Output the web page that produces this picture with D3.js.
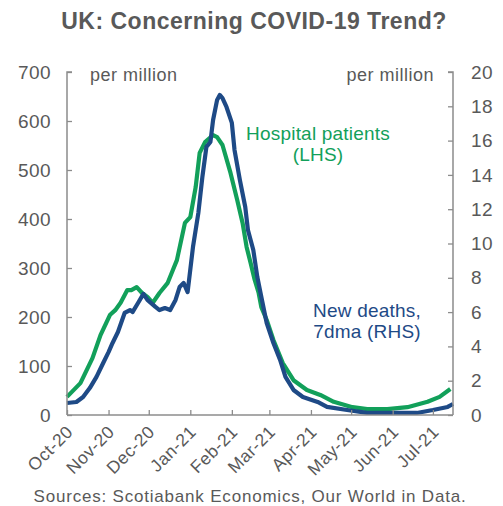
<!DOCTYPE html>
<html><head><meta charset="utf-8">
<script src="https://cdn.jsdelivr.net/npm/d3@7"></script>
<style>
body{margin:0;background:#fff;}
svg text{font-family:"Liberation Sans",Arial,sans-serif;fill:#595959;}
</style></head>
<body><svg id="c" width="503" height="506"></svg>
<script>
const titleText = "UK: Concerning COVID-19 Trend?";
const sourceText = "Sources: Scotiabank Economics, Our World in Data.";
const leftTicks = [0,100,200,300,400,500,600,700];
const rightTicks = [0,2,4,6,8,10,12,14,16,18,20];
const monthTicks = ["2020-10-01","2020-11-01","2020-12-01","2021-01-01","2021-02-01","2021-03-01","2021-04-01","2021-05-01","2021-06-01","2021-07-01"];
const hospDates = ["2020-10-01","2020-10-11","2020-10-20","2020-10-26","2020-11-02","2020-11-06","2020-11-10","2020-11-15","2020-11-18","2020-11-22","2020-11-26","2020-11-30","2020-12-04","2020-12-09","2020-12-15","2020-12-19","2020-12-22","2020-12-28","2021-01-01","2021-01-05","2021-01-08","2021-01-12","2021-01-18","2021-01-21","2021-01-25","2021-01-31","2021-02-05","2021-02-09","2021-02-12","2021-02-15","2021-02-18","2021-02-21","2021-02-23","2021-02-27","2021-03-04","2021-03-11","2021-03-19","2021-03-29","2021-04-08","2021-04-18","2021-05-02","2021-05-13","2021-05-28","2021-06-12","2021-06-27","2021-07-06","2021-07-14"];
const hospValues = [37,65,116,163,204,214,229,255,255,261,249,241,229,249,269,296,316,392,404,465,535,557,571,567,551,494,439,392,343,310,276,249,220,194,153,106,71,51,41,27,16,12,12,16,27,37,53];
const deathDates = ["2020-10-01","2020-10-08","2020-10-13","2020-10-18","2020-10-23","2020-10-28","2020-11-01","2020-11-04","2020-11-08","2020-11-13","2020-11-17","2020-11-19","2020-11-23","2020-11-27","2020-11-30","2020-12-06","2020-12-09","2020-12-13","2020-12-17","2020-12-21","2020-12-24","2020-12-27","2020-12-30","2021-01-03","2021-01-07","2021-01-10","2021-01-13","2021-01-16","2021-01-18","2021-01-21","2021-01-23","2021-01-25","2021-01-28","2021-02-01","2021-02-03","2021-02-07","2021-02-11","2021-02-13","2021-02-17","2021-02-20","2021-02-23","2021-02-27","2021-03-04","2021-03-09","2021-03-13","2021-03-19","2021-03-26","2021-04-06","2021-04-13","2021-04-28","2021-05-13","2021-06-01","2021-06-19","2021-07-01","2021-07-12","2021-07-16"];
const deathValues = [0.70,0.76,1.05,1.57,2.22,3.03,3.67,4.20,4.84,5.95,6.12,6.01,6.53,7.06,6.71,6.30,6.12,6.24,6.12,6.71,7.46,7.70,7.17,9.80,11.78,13.88,15.63,15.92,17.20,18.37,18.66,18.48,17.96,17.03,15.45,13.70,12.13,10.79,9.62,8.05,6.88,5.36,4.20,3.21,2.22,1.46,1.05,0.76,0.47,0.29,0.12,0.12,0.12,0.29,0.47,0.64];

const parse = d3.timeParse("%Y-%m-%d");
const fmt = d3.timeFormat("%b-%y");
const svg = d3.select("#c");
const L = 67, R = 453, T = 72, B = 415;
const axisColor = "#8c8c8c";
const green = "#12a05a", blue = "#1e4a86";

const x = d3.scaleTime().domain([parse("2020-10-01"), parse("2021-07-16")]).range([L, R]);
const yL = d3.scaleLinear().domain([0,700]).range([B, T]);
const yR = d3.scaleLinear().domain([0,20]).range([B, T]);

svg.append("text").attr("x", 254).attr("y", 29).attr("text-anchor","middle")
  .style("font-size","23px").style("font-weight","bold").style("letter-spacing","0.5px").text(titleText);

// Lines
const hosp = hospDates.map((d,i)=>({d:parse(d), v:hospValues[i]}));
const death = deathDates.map((d,i)=>({d:parse(d), v:deathValues[i]}));
svg.append("path").datum(hosp).attr("fill","none").attr("stroke",green).attr("stroke-width",4.2)
  .attr("stroke-linejoin","round").attr("d", d3.line().x(p=>x(p.d)).y(p=>yL(p.v)));
svg.append("path").datum(death).attr("fill","none").attr("stroke",blue).attr("stroke-width",4.2)
  .attr("stroke-linejoin","round").attr("d", d3.line().x(p=>x(p.d)).y(p=>yR(p.v)));

// Axes
const gL = svg.append("g").attr("transform",`translate(${L},0)`)
  .call(d3.axisRight(yL).tickValues(leftTicks).tickSize(5).tickFormat(""));
const gR = svg.append("g").attr("transform",`translate(${R},0)`)
  .call(d3.axisLeft(yR).tickValues(rightTicks).tickSize(5).tickFormat(""));
const gX = svg.append("g").attr("transform",`translate(0,${B})`)
  .call(d3.axisTop(x).tickValues(monthTicks.map(parse)).tickSize(5).tickFormat(""));
[gL,gR,gX].forEach(g=>{
  g.select(".domain").attr("stroke",axisColor).attr("stroke-width",1.5);
  g.selectAll(".tick line").attr("stroke",axisColor).attr("stroke-width",1.3);
});
gX.select(".domain").attr("d",`M${L},0H${R}`);
gL.select(".domain").attr("d",`M5,${T}H0V${B}`);
gR.select(".domain").attr("d",`M-5,${T}H0V${B}`);

// Tick labels
svg.append("g").selectAll("text").data(leftTicks).join("text")
  .attr("x", 51).attr("y", d=>yL(d)).attr("dy","0.35em").attr("text-anchor","end")
  .style("font-size","19px").style("letter-spacing","0.4px").text(d=>d);
svg.append("g").selectAll("text").data(rightTicks).join("text")
  .attr("x", 471).attr("y", d=>yR(d)).attr("dy","0.35em").attr("text-anchor","start")
  .style("font-size","19px").style("letter-spacing","0.4px").text(d=>d);
svg.append("g").selectAll("text").data(monthTicks).join("text")
  .attr("transform", d=>`translate(${x(parse(d))+7},${B+18}) rotate(-45)`)
  .attr("text-anchor","end").style("font-size","17.5px").style("letter-spacing","0.5px").text(d=>fmt(parse(d)));

// Unit labels
svg.append("text").attr("x", 90).attr("y", 81).style("font-size","18px").style("letter-spacing","0.5px").text("per million");
svg.append("text").attr("x", 434).attr("y", 81).attr("text-anchor","end").style("font-size","18px").style("letter-spacing","0.5px").text("per million");

// Series labels
const lg = svg.append("text").attr("text-anchor","middle").style("font-size","19px").style("letter-spacing","0.2px");
lg.append("tspan").attr("x",318).attr("y",140).text("Hospital patients").style("fill",green);
lg.append("tspan").attr("x",318).attr("y",161).text("(LHS)").style("fill",green);
const lb = svg.append("text").attr("text-anchor","middle").style("font-size","19px").style("letter-spacing","0.2px");
lb.append("tspan").attr("x",367).attr("y",317).text("New deaths,").style("fill",blue);
lb.append("tspan").attr("x",367).attr("y",338).text("7dma (RHS)").style("fill",blue);

svg.append("text").attr("x", 250).attr("y", 502).attr("text-anchor","middle")
  .style("font-size","17px").style("letter-spacing","0.8px").text(sourceText);
</script></body></html>
